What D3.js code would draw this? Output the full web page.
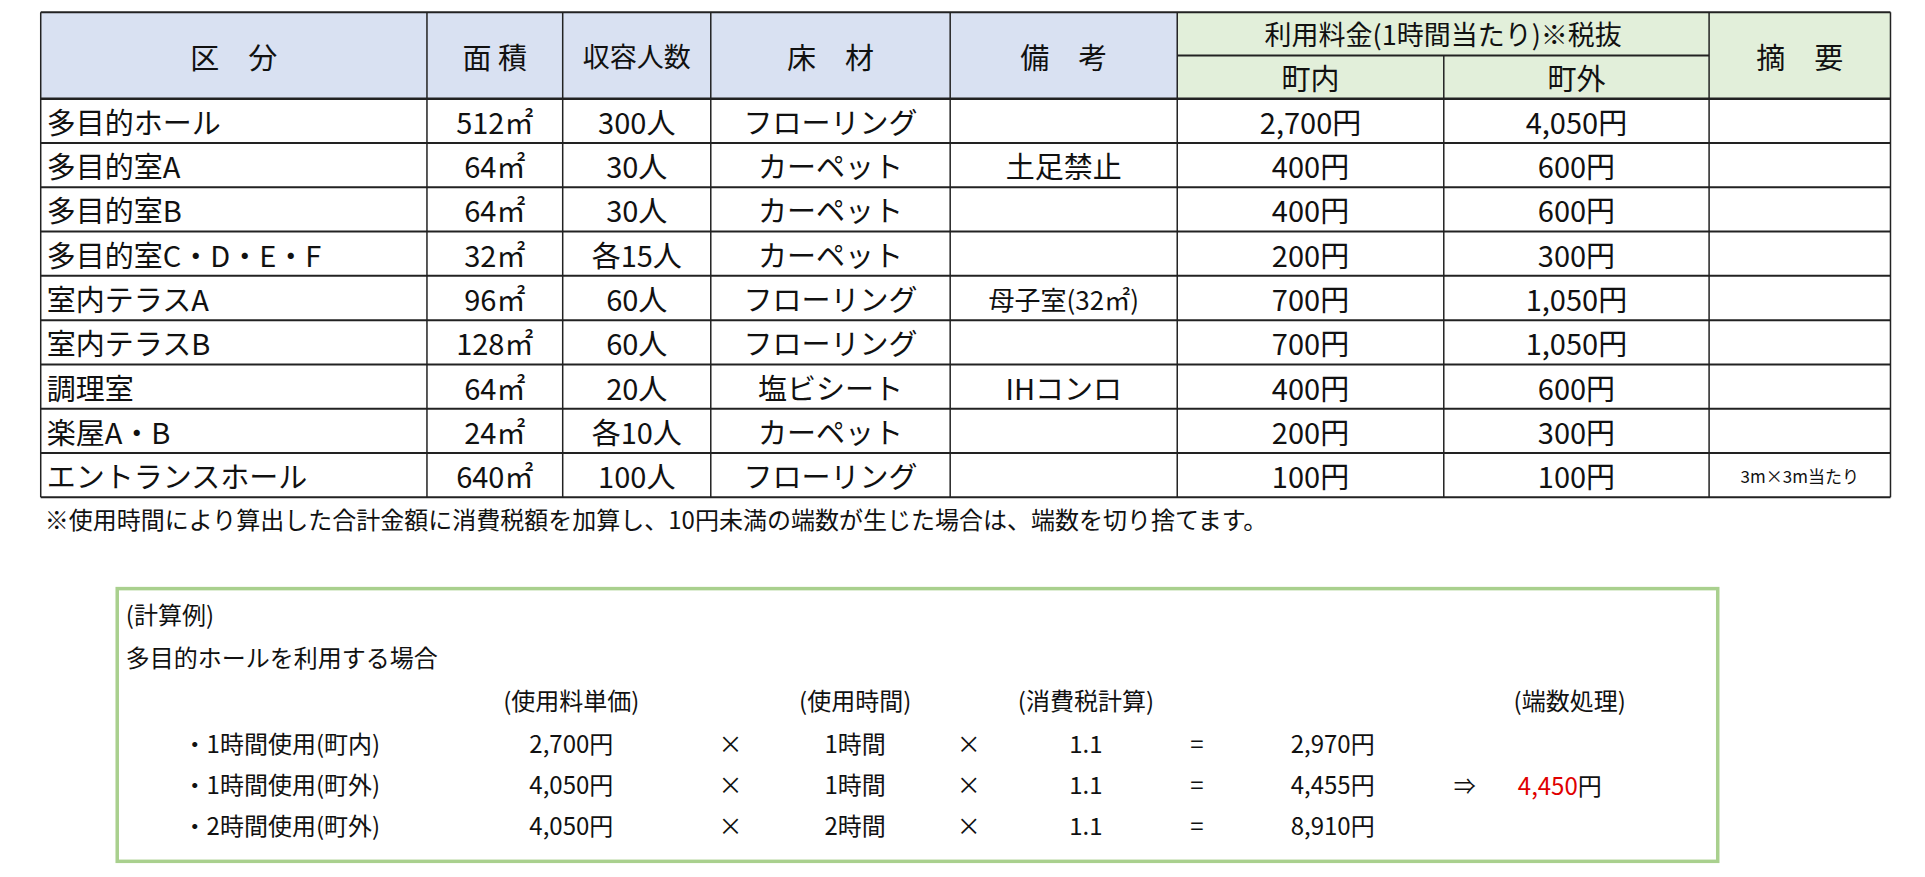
<!DOCTYPE html>
<html><head><meta charset="utf-8">
<script src="https://cdn.jsdelivr.net/npm/d3@7"></script>
<style>body{margin:0;background:#fff}text{font-family:"Noto Sans CJK JP",sans-serif;fill:#111}</style>
</head><body><div id="chart"></div>
<script>
const K = 1.234;
// table data
const headers = ["区　分", "面 積", "収容人数", "床　材", "備　考"];
const feeHeader = "利用料金(1時間当たり)※税抜";
const feeSub = ["町内", "町外"];
const noteHeader = "摘　要";
const rooms = ["多目的ホール", "多目的室A", "多目的室B", "多目的室C・D・E・F", "室内テラスA", "室内テラスB", "調理室", "楽屋A・B", "エントランスホール"];
const areas = ["512㎡", "64㎡", "64㎡", "32㎡", "96㎡", "128㎡", "64㎡", "24㎡", "640㎡"];
const capacity = ["300人", "30人", "30人", "各15人", "60人", "60人", "20人", "各10人", "100人"];
const floors = ["フローリング", "カーペット", "カーペット", "カーペット", "フローリング", "フローリング", "塩ビシート", "カーペット", "フローリング"];
const remarks = ["", "土足禁止", "", "", "母子室(32㎡)", "", "IHコンロ", "", ""];
const feeIn = ["2,700円", "400円", "400円", "200円", "700円", "700円", "400円", "200円", "100円"];
const feeOut = ["4,050円", "600円", "600円", "300円", "1,050円", "1,050円", "600円", "300円", "100円"];
const summary = ["", "", "", "", "", "", "", "", "3m×3m当たり"];
const footnote = "※使用時間により算出した合計金額に消費税額を加算し、10円未満の端数が生じた場合は、端数を切り捨てます。";
// example box
const exTitle = ["(計算例)", "多目的ホールを利用する場合"];
const exHeads = ["(使用料単価)", "(使用時間)", "(消費税計算)", "(端数処理)"];
const exLabels = ["・1時間使用(町内)", "・1時間使用(町外)", "・2時間使用(町外)"];
const exPrice = ["2,700円", "4,050円", "4,050円"];
const exHours = ["1時間", "1時間", "2時間"];
const exTax = ["1.1", "1.1", "1.1"];
const exTotal = ["2,970円", "4,455円", "8,910円"];
const exRounded = ["", "4,450", ""];

const W = 1925, H = 877;
const svg = d3.select("#chart").append("svg").attr("width", W).attr("height", H);

const colEdges = [33, 346, 456, 576, 770, 954, 1170, 1385, 1532].map(d => d * K);
const x = i => colEdges[i], cx = i => (colEdges[i] + colEdges[i + 1]) / 2;
const tTop = 10 * K, split = 45 * K, hb = 80 * K;
const y = d3.scaleLinear().domain([0, rooms.length]).range([hb, 403 * K]);

const fs = 29;
function txt(g, tx, ty, s, anchor, size, color) {
  return g.append("text").attr("x", tx).attr("y", ty).attr("text-anchor", anchor || "middle")
    .attr("dominant-baseline", "central").attr("font-size", size || fs)
    .style("fill", color || "#111").text(s);
}

// header fills
svg.append("rect").attr("x", x(0)).attr("y", tTop).attr("width", x(5) - x(0)).attr("height", hb - tTop).attr("fill", "#d9e1f2");
svg.append("rect").attr("x", x(5)).attr("y", tTop).attr("width", x(8) - x(5)).attr("height", hb - tTop).attr("fill", "#e2efda");

const hy = (tTop + hb) / 2;
headers.forEach((h, i) => txt(svg, cx(i), hy, h, "middle", i == 2 ? 27 : fs));
txt(svg, (x(5) + x(7)) / 2, (tTop + split) / 2, feeHeader, "middle", 27);
feeSub.forEach((h, i) => txt(svg, cx(5 + i), (split + hb) / 2, h));
txt(svg, cx(7), hy, noteHeader);

// body
const cols = [rooms, areas, capacity, floors, remarks, feeIn, feeOut, summary];
rooms.forEach((r, j) => {
  const ry = (y(j) + y(j + 1)) / 2;
  cols.forEach((c, i) => {
    if (!c[j]) return;
    if (i == 0) txt(svg, x(0) + 6, ry, c[j], "start");
    else if (i == 7) txt(svg, cx(i), ry, c[j], "middle", 17);
    else txt(svg, cx(i), ry, c[j], "middle", i == 4 && c[j].length > 5 ? 26 : fs);
  });
});

// grid lines
const line = (x1, y1, x2, y2, w) => svg.append("line").attr("x1", x1).attr("y1", y1).attr("x2", x2).attr("y2", y2)
  .attr("stroke", "#222").attr("stroke-width", w || 1.5);
line(x(0), tTop, x(8), tTop, 2);
line(x(5), split, x(7), split, 2);
d3.range(rooms.length + 1).forEach(j => line(x(0), y(j), x(8), y(j), j == 0 ? 2.5 : 2));
colEdges.forEach((c, i) => {
  const y0 = (i == 6) ? split : tTop;
  line(c, y0, c, y(rooms.length), 1.5);
});

txt(svg, x(0) + 4, 420 * K, footnote, "start", 24);

// example box
const bx0 = 95 * K, bx1 = 1392 * K, by0 = 477 * K, by1 = 698 * K;
svg.append("rect").attr("x", bx0).attr("y", by0).attr("width", bx1 - bx0).attr("height", by1 - by0)
  .attr("fill", "none").attr("stroke", "#a9d08e").attr("stroke-width", 3.5);
txt(svg, 102 * K, 497 * K, exTitle[0], "start", 24);
txt(svg, 102 * K, 532 * K, exTitle[1], "start", 24);
const hx = [463, 693, 880, 1272].map(d => d * K);
exHeads.forEach((h, i) => txt(svg, hx[i], 567 * K, h, "middle", 24));
const ry = d3.scaleLinear().domain([0, 1]).range([602 * K, 635 * K]);
exLabels.forEach((l, j) => {
  const yy = ry(j);
  txt(svg, 148 * K, yy, l, "start", 24);
  txt(svg, 463 * K, yy, exPrice[j], "middle", 24);
  txt(svg, 592 * K, yy, "×", "middle", 24);
  txt(svg, 693 * K, yy, exHours[j], "middle", 24);
  txt(svg, 785 * K, yy, "×", "middle", 24);
  txt(svg, 880 * K, yy, exTax[j], "middle", 24);
  txt(svg, 970 * K, yy, "=", "middle", 24);
  txt(svg, 1080 * K, yy, exTotal[j], "middle", 24);
  if (exRounded[j]) {
    txt(svg, 1187 * K, yy, "⇒", "middle", 22);
    const t = txt(svg, 1230 * K, yy, "", "start", 24);
    t.append("tspan").style("fill", "#e00000").text(exRounded[j]);
    t.append("tspan").text("円");
  }
});
</script></body></html>
